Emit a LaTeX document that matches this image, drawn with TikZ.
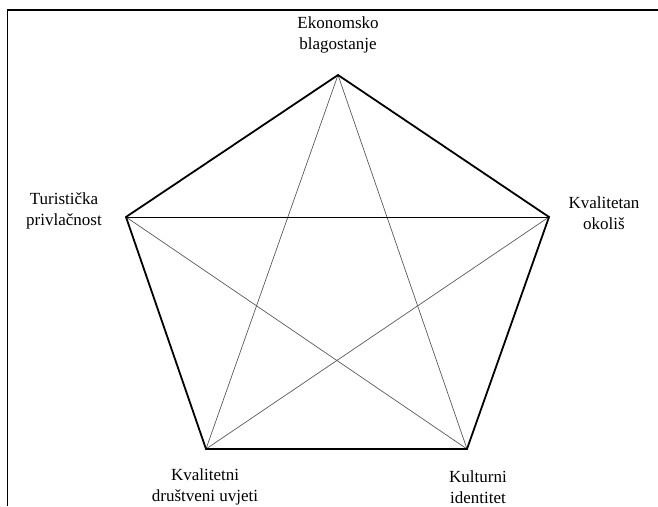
\documentclass[tikz,border=0pt]{standalone}
\usepackage{fontspec}
\setmainfont{Liberation Serif}
\begin{document}
\begin{tikzpicture}[x=1pt,y=-1pt,
  edge/.style={line width=1.8pt,line join=miter},
  diag/.style={line width=0.7pt,draw=black!65},
  lbl/.style={align=center,font=\fontsize{17}{21}\selectfont,inner sep=0pt}]
\useasboundingbox (0,0) rectangle (658,506);
\draw[line width=1.1pt] (7.5,506) -- (7.5,10) -- (658,10);
\coordinate (T) at (338,75);
\coordinate (L) at (126,217);
\coordinate (R) at (549,217);
\coordinate (BL) at (206,449);
\coordinate (BR) at (467,449);
\draw[diag] (T) -- (BL);
\draw[diag] (T) -- (BR);
\draw[diag] (L) -- (BR);
\draw[diag] (R) -- (BL);
\draw[line width=0.7pt] (L) -- (R);
\draw[edge] (T) -- (R) -- (BR) -- (BL) -- (L) -- cycle;
\node[lbl] (nT) at (338,35) {Ekonomsko\\blagostanje};
\node[lbl] (nL) at (64,211) {Turistička\\privlačnost};
\node[lbl] (nR) at (604,213) {Kvalitetan\\okoliš};
\node[lbl] (nBL) at (205,487) {Kvalitetni\\društveni uvjeti};
\node[lbl] (nBR) at (478,487) {Kulturni\\identitet};
\end{tikzpicture}
\end{document}
